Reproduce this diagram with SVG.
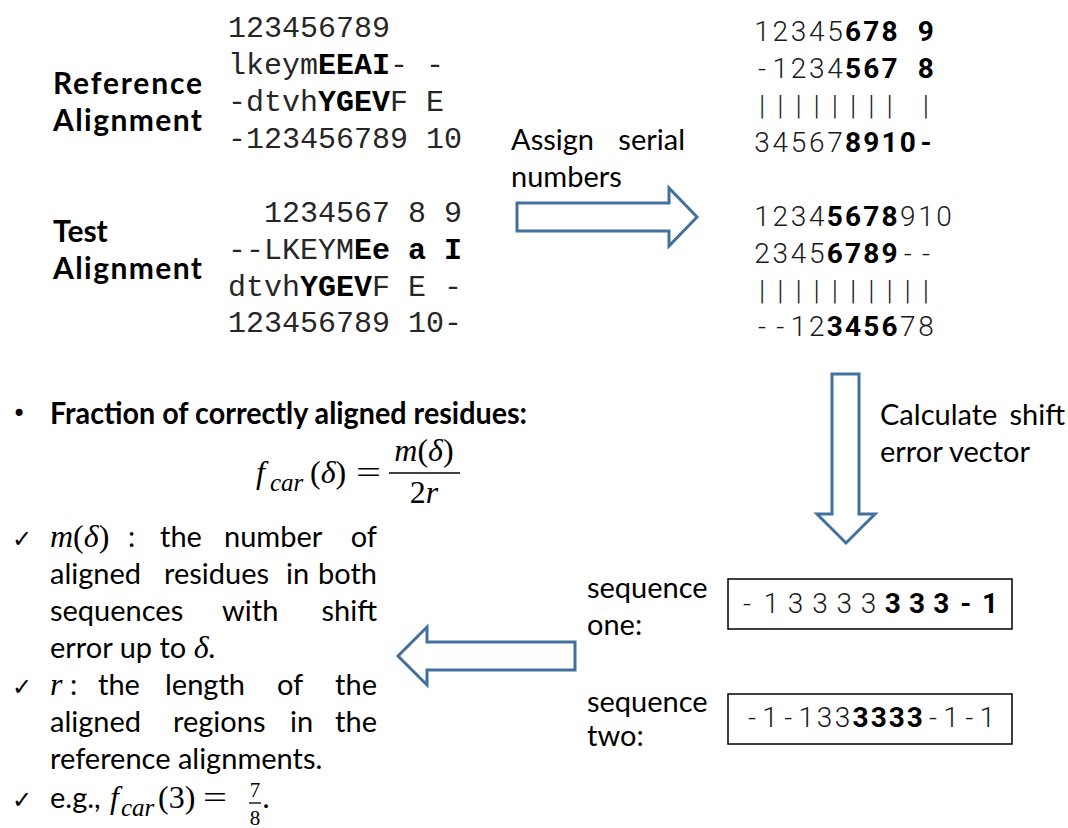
<svg xmlns="http://www.w3.org/2000/svg" width="1068" height="828" viewBox="0 0 1068 828">
  <style>
    .mono { font-family: "Liberation Mono", "Courier New", monospace; font-size: 30px; white-space: pre; fill: #262626; }
    .mono .b { fill: #000; }
    .b { font-weight: bold; }
    .lbl { font-family: Lato, "Liberation Sans", sans-serif; font-size: 30px; font-weight: bold; fill: #000; }
    .txt { font-family: Lato, "Liberation Sans", sans-serif; font-size: 29px; fill: #000; }
    .num { font-family: Roboto, "DejaVu Sans", sans-serif; font-size: 28px; font-weight: 300; fill: #1a1a1a; text-anchor: middle; }
    .num .b { font-weight: bold; fill: #000; }
    .math { font-family: "Liberation Serif", "DejaVu Serif", serif; font-size: 32px; font-style: italic; fill: #000; }
    .up { font-style: normal; }
    .sub { font-size: 25px; }
    .chk { font-family: "DejaVu Sans", sans-serif; font-size: 24px; fill: #000; }
    .arrow { fill: #fff; stroke: #41719c; stroke-width: 3; stroke-linejoin: miter; }
    .box { fill: #fff; stroke: #000; stroke-width: 1.5; }
  </style>

  <!-- reference alignment -->
  <g id="reference-alignment">
    <text class="lbl" x="53" y="94" textLength="149" lengthAdjust="spacing">Reference</text>
    <text class="lbl" x="53" y="131" textLength="149" lengthAdjust="spacing">Alignment</text>
    <text class="mono" x="228" y="37">123456789</text>
    <text class="mono" x="228" y="74">lkeym<tspan class="b">EEAI</tspan>- -</text>
    <text class="mono" x="228" y="111">-dtvh<tspan class="b">YGEV</tspan>F E</text>
    <text class="mono" x="228" y="148">-123456789 10</text>
  </g>

  <!-- test alignment -->
  <g id="test-alignment">
    <text class="lbl" x="53" y="242">Test</text>
    <text class="lbl" x="53" y="279" textLength="149" lengthAdjust="spacing">Alignment</text>
    <text class="mono" x="228" y="222">  1234567 8 9</text>
    <text class="mono" x="228" y="259">--LKEYM<tspan class="b">Ee a I</tspan></text>
    <text class="mono" x="228" y="296">dtvh<tspan class="b">YGEV</tspan>F E -</text>
    <text class="mono" x="228" y="332">123456789 10-</text>
  </g>

  <!-- serial numbers, reference pair -->
  <g id="serial-reference">
    <text class="num" y="41"><tspan x="762.1 780.3 798.5 816.7 834.9">12345</tspan><tspan class="b" x="853.1 871.3 889.5 907.7 925.9">678 9</tspan></text>
    <text class="num" y="78"><tspan x="762.1 780.3 798.5 816.7 834.9">-1234</tspan><tspan class="b" x="853.1 871.3 889.5 907.7 925.9">567 8</tspan></text>
    <text class="num" y="115" x="762.1 780.3 798.5 816.7 834.9 853.1 871.3 889.5 925.9">|||||||||</text>
    <text class="num" y="152"><tspan x="762.1 780.3 798.5 816.7 834.9">34567</tspan><tspan class="b" x="853.1 871.3 889.5 907.7 925.9">8910-</tspan></text>
  </g>

  <!-- serial numbers, test pair -->
  <g id="serial-test">
    <text class="num" y="226"><tspan x="762.1 780.3 798.5 816.7">1234</tspan><tspan class="b" x="834.9 853.1 871.3 889.5">5678</tspan><tspan x="907.7 925.9 944.1">910</tspan></text>
    <text class="num" y="263"><tspan x="762.1 780.3 798.5 816.7">2345</tspan><tspan class="b" x="834.9 853.1 871.3 889.5">6789</tspan><tspan x="907.7 925.9">--</tspan></text>
    <text class="num" y="300" x="762.1 780.3 798.5 816.7 834.9 853.1 871.3 889.5 907.7 925.9">||||||||||</text>
    <text class="num" y="336"><tspan x="762.1 780.3 798.5 816.7">--12</tspan><tspan class="b" x="834.9 853.1 871.3 889.5">3456</tspan><tspan x="907.7 925.9">78</tspan></text>
  </g>

  <!-- shift error vectors -->
  <g id="sequence-one">
    <text class="txt" x="587" y="598">sequence</text>
    <text class="txt" x="587" y="635">one:</text>
    <rect class="box" x="728" y="579" width="284" height="50"/>
    <text class="num" y="613"><tspan x="747 771.3 795.6 819.9 844.2 868.5">-13333</tspan><tspan class="b" x="892.8 917.1 941.4 965.7 990">333-1</tspan></text>
  </g>
  <g id="sequence-two">
    <text class="txt" x="587" y="712">sequence</text>
    <text class="txt" x="587" y="746">two:</text>
    <rect class="box" x="728" y="694" width="284" height="50"/>
    <text class="num" y="727"><tspan x="752 770.1 788.2 806.3 824.4 842.5">-1-133</tspan><tspan class="b" x="860.6 878.7 896.8 914.9">3333</tspan><tspan x="933 951.1 969.2 987.3">-1-1</tspan></text>
  </g>

  <!-- definition of the score -->
  <g id="definition">
    <text class="chk" x="12" y="422">•</text>
    <text class="lbl" x="50" y="424" textLength="477" lengthAdjust="spacingAndGlyphs">Fraction of correctly aligned residues:</text>

    <text class="math" x="256" y="483">f</text>
    <text class="math sub" x="270" y="491">car</text>
    <text class="math" x="310" y="483"><tspan class="up">(</tspan>δ<tspan class="up">)</tspan></text>
    <text class="math up" x="356" y="483" textLength="25" lengthAdjust="spacingAndGlyphs">=</text>
    <text class="math" x="424" y="461" text-anchor="middle">m<tspan class="up">(</tspan>δ<tspan class="up">)</tspan></text>
    <line x1="389" y1="473" x2="460" y2="473" stroke="#000" stroke-width="1.6"/>
    <text class="math" x="424" y="503" text-anchor="middle"><tspan class="up">2</tspan>r</text>

    <text class="chk" x="12" y="547">✓</text>
    <text class="math" x="50" y="547">m<tspan class="up">(</tspan>δ<tspan class="up">)</tspan></text>
    <text class="txt" x="128" y="547">:</text>
    <text class="txt" x="160" y="547">the</text>
    <text class="txt" x="224" y="547">number</text>
    <text class="txt" x="377" y="547" text-anchor="end">of</text>

    <text class="txt" x="50" y="584">aligned</text>
    <text class="txt" x="164" y="584">residues</text>
    <text class="txt" x="286" y="584">in</text>
    <text class="txt" x="377" y="584" text-anchor="end">both</text>

    <text class="txt" x="50" y="621">sequences</text>
    <text class="txt" x="222" y="621">with</text>
    <text class="txt" x="377" y="621" text-anchor="end">shift</text>

    <text class="txt" x="50" y="658">error up to <tspan class="math">δ.</tspan></text>

    <text class="chk" x="12" y="695">✓</text>
    <text class="math" x="50" y="695">r</text>
    <text class="txt" x="70" y="695">:</text>
    <text class="txt" x="98" y="695">the</text>
    <text class="txt" x="165" y="695">length</text>
    <text class="txt" x="277" y="695">of</text>
    <text class="txt" x="377" y="695" text-anchor="end">the</text>

    <text class="txt" x="50" y="732">aligned</text>
    <text class="txt" x="173" y="732">regions</text>
    <text class="txt" x="290" y="732">in</text>
    <text class="txt" x="377" y="732" text-anchor="end">the</text>

    <text class="txt" x="50" y="769">reference alignments.</text>

    <text class="chk" x="12" y="808">✓</text>
    <text class="txt" x="50" y="808">e.g.,</text>
    <text class="math" x="110" y="808">f</text>
    <text class="math sub" x="121" y="816">car</text>
    <text class="math up" x="158" y="808">(3)</text>
    <text class="math up" x="203" y="808" textLength="24" lengthAdjust="spacingAndGlyphs">=</text>
    <text class="math up" x="255" y="797" text-anchor="middle" style="font-size:21px">7</text>
    <line x1="249" y1="803" x2="261" y2="803" stroke="#000" stroke-width="1.3"/>
    <text class="math up" x="255" y="825" text-anchor="middle" style="font-size:21px">8</text>
    <text class="math up" x="262" y="808">.</text>
  </g>

  <!-- step labels -->
  <g id="label-assign">
    <text class="txt" x="511" y="150">Assign</text>
    <text class="txt" x="685" y="150" text-anchor="end">serial</text>
    <text class="txt" x="511" y="187">numbers</text>
  </g>
  <g id="label-calculate">
    <text class="txt" x="880" y="425">Calculate</text>
    <text class="txt" x="1065" y="425" text-anchor="end">shift</text>
    <text class="txt" x="880" y="462">error vector</text>
  </g>

  <!-- block arrows between the steps -->
  <g id="connectors">
    <path class="arrow" d="M517,203 H669 V188 L697,217 L669,246 V231 H517 Z"/>
    <path class="arrow" d="M832,374 H859 V514 H875 L846,543 L817,514 H832 Z"/>
    <path class="arrow" d="M575,642 V670 H427 V685 L398,656 L427,627 V642 Z"/>
  </g>
</svg>
